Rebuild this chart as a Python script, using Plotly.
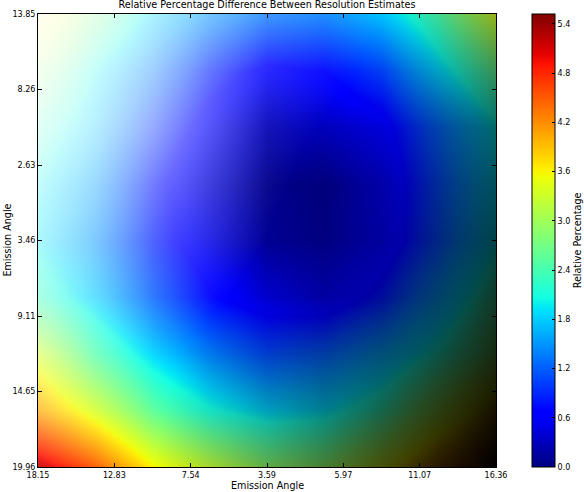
import numpy as np
import plotly.graph_objects as go

# ---- data ----
x_tick_labels = ["18.15", "12.83", "7.54", "3.59", "5.97", "11.07", "16.36"]
y_tick_labels = ["13.85", "8.26", "2.63", "3.46", "9.11", "14.65", "19.96"]

grid_x = [0, 0.125, 0.25, 0.375, 0.5, 0.625, 0.75, 0.875, 1.0]
grid_y = [0, 0.125, 0.25, 0.375, 0.5, 0.625, 0.75, 0.875, 1.0]

# relative percentage (rows top -> bottom)
rel_pct = [
    [3.90, 2.70, 1.85, 1.50, 1.33, 1.38, 1.75, 2.45, 3.37],
    [2.90, 2.00, 1.35, 0.85, 0.62, 0.70, 1.05, 1.85, 2.60],
    [2.30, 1.75, 0.95, 0.55, 0.25, 0.30, 0.55, 1.25, 2.00],
    [2.00, 1.55, 0.78, 0.40, 0.05, 0.02, 0.38, 1.10, 1.90],
    [1.95, 1.50, 0.85, 0.47, 0.10, 0.10, 0.43, 1.10, 1.93],
    [2.30, 1.80, 1.20, 0.72, 0.48, 0.42, 0.80, 1.55, 2.40],
    [3.35, 2.45, 1.85, 1.40, 1.10, 1.20, 1.60, 2.15, 2.85],
    [4.05, 3.35, 2.55, 2.10, 1.85, 1.90, 2.30, 3.10, 3.90],
    [5.20, 4.50, 3.60, 3.25, 2.90, 2.90, 3.40, 4.20, 4.50],
]

# light / shadow relief (-1 = white, +1 = black)
shade_x = [0, 0.25, 0.5, 0.75, 1.0]
shade_y = [0, 0.25, 0.5, 0.75, 1.0]
shade = [
    [-0.94, -0.67, -0.24, 0.00, 0.30],
    [-0.85, -0.59, -0.08, 0.10, 0.57],
    [-0.67, -0.31, 0.00, 0.27, 0.72],
    [-0.50, -0.05, 0.20, 0.53, 0.84],
    [-0.10, 0.00, 0.33, 0.69, 1.00],
]

cbar_ticks = [0.0, 0.6, 1.2, 1.8, 2.4, 3.0, 3.6, 4.2, 4.8, 5.4]
zmax = 5.52

# ---- jet colormap ----
def jet(p):
    r = np.interp(p, [0, 0.35, 0.66, 0.89, 1], [0, 0, 1, 1, 0.5])
    g = np.interp(p, [0, 0.125, 0.375, 0.64, 0.91, 1], [0, 0, 1, 1, 0, 0])
    b = np.interp(p, [0, 0.11, 0.34, 0.65, 1], [0.5, 1, 1, 0, 0])
    return f"rgb({int(round(r*255))},{int(round(g*255))},{int(round(b*255))})"

jet_scale = [[float(p), jet(p)] for p in np.linspace(0, 1, 81)]

shade_scale = [
    [0.0, "rgba(255,255,255,1)"],
    [0.5, "rgba(255,255,255,0)"],
    [0.5, "rgba(0,0,0,0)"],
    [1.0, "rgba(0,0,0,1)"],
]

font = "DejaVu Sans"

fig = go.Figure()
fig.add_trace(go.Heatmap(
    z=rel_pct, x=grid_x, y=grid_y, zsmooth="best",
    colorscale=jet_scale, zmin=0, zmax=zmax,
    colorbar=dict(
        x=(533 - 38) / 459, xanchor="left", xpad=0, ypad=0,
        y=0.5, yanchor="middle", len=1, lenmode="fraction",
        thickness=23, outlinewidth=1, outlinecolor="black",
        tickvals=cbar_ticks, ticktext=[f"{t:.1f}" for t in cbar_ticks],
        ticks="inside", ticklen=3, tickcolor="black",
        tickfont=dict(family=font, size=8, color="black"),
    ),
    hoverinfo="skip",
))
fig.add_trace(go.Heatmap(
    z=shade, x=shade_x, y=shade_y, zsmooth="best",
    colorscale=shade_scale, zmin=-1, zmax=1, showscale=False,
    hoverinfo="skip",
))

tick_pos = list(np.linspace(0, 1, 7))
axis_common = dict(
    showgrid=False, zeroline=False, showline=True, mirror="ticks",
    linecolor="black", linewidth=1, ticks="inside", ticklen=4,
    tickcolor="black", tickfont=dict(family=font, size=8, color="black"),
    tickvals=tick_pos,
)
fig.update_xaxes(range=[0, 1], ticktext=x_tick_labels, **axis_common)
fig.update_yaxes(range=[1, 0], ticktext=y_tick_labels, **axis_common)

fig.update_layout(
    width=584, height=492,
    margin=dict(l=38, r=87, t=10, b=25),
    paper_bgcolor="white", plot_bgcolor="white",
    title=dict(text="Relative Percentage Difference Between Resolution Estimates",
               x=0.5, xref="paper", xanchor="center",
               y=1 - 5 / 492, yref="container", yanchor="middle",
               font=dict(family=font, size=9.6, color="black")),
    annotations=[
        dict(text="Emission Angle", xref="paper", yref="paper",
             x=0.5, y=-(486 - 467) / 457, xanchor="center", yanchor="middle",
             showarrow=False, font=dict(family=font, size=9.6, color="black")),
        dict(text="Emission Angle", xref="paper", yref="paper",
             x=(7 - 38) / 459, y=0.5, xanchor="center", yanchor="middle",
             textangle=-90, showarrow=False,
             font=dict(family=font, size=9.6, color="black")),
        dict(text="Relative Percentage", xref="paper", yref="paper",
             x=(579 - 38) / 459, y=0.5, xanchor="center", yanchor="middle",
             textangle=-90, showarrow=False,
             font=dict(family=font, size=9.6, color="black")),
    ],
)

fig.write_html("out.html", config={"displayModeBar": False},
               post_script="document.body.style.margin='0';")
